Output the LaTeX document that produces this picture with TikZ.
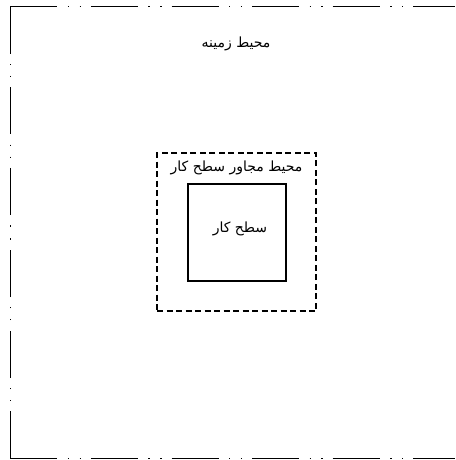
\documentclass[tikz,border=0pt]{standalone}
\usepackage{fontspec}
\newfontfamily\arabicfont[Script=Arabic]{DejaVu Sans}
\TeXXeTstate=1
\usetikzlibrary{positioning}
\definecolor{ink}{RGB}{0,0,0}
\tikzset{
  frameline/.style={draw=ink,line width=1.5pt,
    dash pattern=on 47pt off 10.5pt on 1.3pt off 10.5pt on 1.3pt off 10pt},
  nearbox/.style={draw=ink,line width=1.5pt,dash pattern=on 6pt off 3.5pt,
    minimum width=159pt,minimum height=158pt,inner sep=0pt},
  workbox/.style={draw=ink,line width=2.8pt,minimum width=98pt,minimum height=97pt,
    inner sep=0pt},
  tag/.style={text=ink,inner sep=1pt,font=\arabicfont\fontsize{14}{16}\selectfont},
}
\begin{document}
\begin{tikzpicture}[x=1pt,y=-1pt]
  \useasboundingbox (0,0) rectangle (455,460);
  % outer frame, open to the right
  \coordinate (nw) at (10.3,6.6);
  \coordinate (ne) at (455,6.6);
  \coordinate (sw) at (10.3,458.3);
  \coordinate (se) at (455,458.3);
  \coordinate (wmid) at (10.3,232);
  \draw[frameline] (nw) -- (ne);
  \draw[frameline] (sw) -- (se);
  \draw[frameline] (nw) -- (wmid);
  \draw[frameline] (sw) -- (wmid);
  \node[tag] (ground) at (236,44) {\beginR محیط زمینه\endR};
  % zones
  \node[nearbox] (near) at (236.5,232) {};
  \node[tag] (near label) at (236.5,168) {\beginR محیط مجاور سطح کار\endR};
  \node[workbox] (work) at (237,232.5) {};
  \node[tag] (work label) at (work.center) [xshift=3pt,yshift=4pt] {\beginR سطح کار\endR};
\end{tikzpicture}
\end{document}
